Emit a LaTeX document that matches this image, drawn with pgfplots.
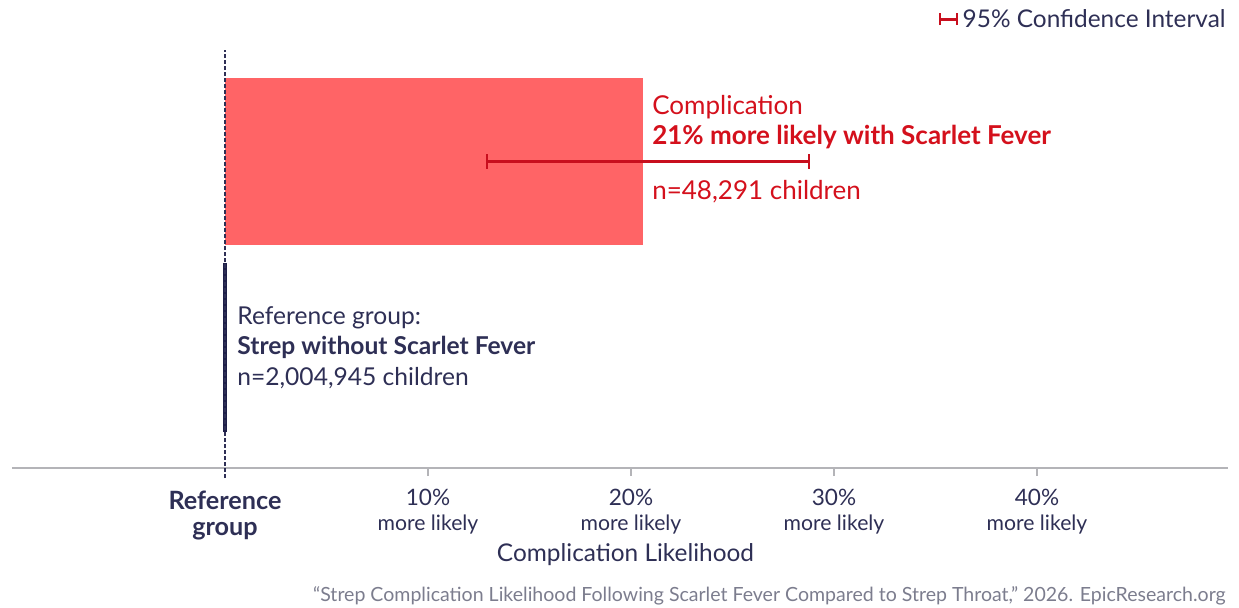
\documentclass[border=0pt]{standalone}
\usepackage{pgfplots}
\pgfplotsset{compat=1.18}
\usepackage{fontspec}
\setmainfont{Lato}
\definecolor{navy}{HTML}{2E2F55}
\definecolor{navydark}{HTML}{1E1F48}
\definecolor{barred}{HTML}{FF6466}
\definecolor{txtred}{HTML}{D4101C}
\definecolor{errred}{HTML}{C80F1E}
\definecolor{axisgray}{HTML}{B4B4B8}
\definecolor{footgray}{HTML}{7C7D8E}
\newcommand{\tl}[1]{{\fontsize{11.3}{12.5}\selectfont #1}\\more likely}
\begin{document}
\begin{tikzpicture}
\begin{axis}[
  scale only axis, width=608pt, height=214pt,
  xmin=-10.4926, xmax=49.409, ymin=0, ymax=428,
  axis x line*=bottom, axis y line=none,
  x axis line style={draw=axisgray, line width=0.6pt, -},
  xtick={10,20,30,40},
  xticklabels={{\tl{10\%}},{\tl{20\%}},{\tl{30\%}},{\tl{40\%}}},
  xticklabel style={align=center, text=navy, anchor=north, yshift=-6.5pt, inner sep=0pt,
    font=\fontsize{10.6}{12.5}\selectfont},
  extra x ticks={0},
  extra x tick labels={{Reference\\group}},
  extra x tick style={major tick length=0pt, xticklabel style={align=center, text=navy, anchor=north, yshift=-5pt, inner sep=0pt,
    font=\fontsize{12.6}{13}\selectfont\bfseries}},
  tick style={draw=axisgray, line width=0.6pt},
  major tick length=4pt, tick align=outside,
  ytick=\empty,
  clip=false,
]
% red bar
\addplot[xbar, bar width=167, fill=barred, draw=none] coordinates {(20.59,306.5)};
% 95% confidence interval
\addplot[errred, line width=1.1pt, mark=|, mark size=3.6pt, mark options={solid, line width=1.1pt}]
  coordinates {(12.91,306.5) (28.77,306.5)};
% reference group line
\addplot[navydark, line width=2.4pt] coordinates {(0,36) (0,205)};
% dashed reference line
\addplot[navy, line width=0.7pt, dash pattern=on 2pt off 1pt] coordinates {(0,-10) (0,418)};

% annotations
\node[anchor=west, inner sep=0pt, text=txtred, font=\fontsize{13}{14}\selectfont] at (axis cs:21.03,361) {Complication};
\node[anchor=west, inner sep=0pt, text=txtred, font=\fontsize{13}{14}\selectfont\bfseries] at (axis cs:21.03,331) {21\% more likely with Scarlet Fever};
\node[anchor=west, inner sep=0pt, text=txtred, font=\fontsize{13}{14}\selectfont] at (axis cs:21.03,276) {n=48,291 children};

\node[anchor=west, inner sep=0pt, text=navy, font=\fontsize{12.3}{14}\selectfont] at (axis cs:0.59,150) {Reference group:};
\node[anchor=west, inner sep=0pt, text=navy, font=\fontsize{12.3}{14}\selectfont\bfseries] at (axis cs:0.59,121) {Strep without Scarlet Fever};
\node[anchor=west, inner sep=0pt, text=navy, font=\fontsize{12.3}{14}\selectfont] at (axis cs:0.59,90) {n=2,004,945 children};

\node[inner sep=0pt, text=navy, font=\fontsize{12.2}{14}\selectfont] at (axis cs:19.73,-87) {Complication Likelihood};
\node[anchor=east, inner sep=0pt, text=footgray, font=\fontsize{9.77}{11}\selectfont] at (axis cs:49.31,-128) {“Strep Complication Likelihood Following Scarlet Fever Compared to Strep Throat,” 2026. EpicResearch.org};

% legend
\node[anchor=east, inner sep=0pt, text=navy, font=\fontsize{12.2}{14}\selectfont] at (axis cs:49.31,449) {95\% Confidence Interval};
\draw[errred, line width=1.5pt] (axis cs:35.22,449) -- (axis cs:36.06,449);
\draw[errred, line width=1.4pt] (axis cs:35.22,443) -- (axis cs:35.22,455);
\draw[errred, line width=1.4pt] (axis cs:36.06,443) -- (axis cs:36.06,455);

\coordinate (bl) at (axis cs:-11.0837,-139);
\coordinate (tr) at (axis cs:49.951,468);
\end{axis}
\pgfresetboundingbox
\path[use as bounding box] (bl) rectangle (tr);
\end{tikzpicture}
\end{document}
